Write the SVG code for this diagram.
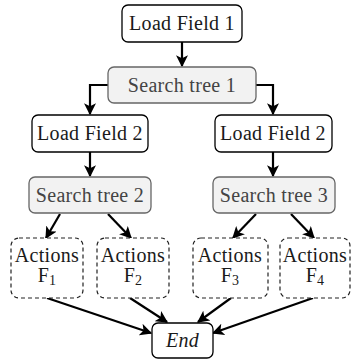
<svg xmlns="http://www.w3.org/2000/svg" width="352" height="362" viewBox="0 0 352 362">
<style>
text{font-family:"Liberation Serif","Times New Roman",serif;font-size:20px;letter-spacing:0.3px;fill:#1a1a1a;text-anchor:middle}
.box{fill:#fff;stroke:#000;stroke-width:1.3}
.st{fill:#f2f2f2;stroke:#666;stroke-width:1.3}
.act{fill:#fff;stroke:#222;stroke-width:1.2;stroke-dasharray:4 3}
.stt{fill:#444}
.sub{font-size:14px}
.c{fill:none;stroke:#000;stroke-width:2.2;marker-end:url(#ah)}
</style>
<defs>
<marker id="ah" viewBox="0 0 10 10" refX="9" refY="5" markerWidth="5.5" markerHeight="5.5" orient="auto" markerUnits="strokeWidth">
<path d="M0,0 L10,5 L0,10 L2.5,5 z" fill="#000"/>
</marker>
</defs>
<g id="connectors">
<path class="c" d="M182,42 V66"/>
<path class="c" d="M108,85 H90 V114"/>
<path class="c" d="M256,85 H273 V114"/>
<path class="c" d="M90,152 V176"/>
<path class="c" d="M273,152 V176"/>
<path class="c" d="M60,214 L46,238"/>
<path class="c" d="M108,214 L131,238"/>
<path class="c" d="M256,214 L233,238"/>
<path class="c" d="M291,214 L314,238"/>
<path class="c" d="M47,298 L151,333"/>
<path class="c" d="M130,298 L167,322"/>
<path class="c" d="M231,298 L198,322"/>
<path class="c" d="M313,298 L213,333"/>
</g>
<g id="lf1"><rect class="box" x="122" y="5" width="120" height="37" rx="6"/><text x="182" y="30">Load Field 1</text></g>
<g id="st1"><rect class="st" x="108" y="67" width="148" height="36" rx="6"/><text class="stt" x="182" y="92">Search tree 1</text></g>
<g id="lf2a"><rect class="box" x="32" y="115" width="116" height="37" rx="6"/><text x="90" y="140">Load Field 2</text></g>
<g id="lf2b"><rect class="box" x="215" y="115" width="117" height="37" rx="6"/><text x="273" y="140">Load Field 2</text></g>
<g id="st2"><rect class="st" x="29" y="177" width="122" height="36" rx="6"/><text class="stt" x="90" y="202">Search tree 2</text></g>
<g id="st3"><rect class="st" x="213" y="177" width="122" height="36" rx="6"/><text class="stt" x="274" y="202">Search tree 3</text></g>
<g id="a1"><rect class="act" x="11" y="238" width="72" height="60" rx="8"/><text x="47" y="262">Actions</text><text x="47" y="282">F<tspan class="sub" dy="3">1</tspan></text></g>
<g id="a2"><rect class="act" x="97" y="238" width="72" height="60" rx="8"/><text x="133" y="262">Actions</text><text x="133" y="282">F<tspan class="sub" dy="3">2</tspan></text></g>
<g id="a3"><rect class="act" x="193" y="238" width="75" height="60" rx="8"/><text x="230" y="262">Actions</text><text x="230" y="282">F<tspan class="sub" dy="3">3</tspan></text></g>
<g id="a4"><rect class="act" x="280" y="238" width="70" height="60" rx="8"/><text x="315" y="262">Actions</text><text x="315" y="282">F<tspan class="sub" dy="3">4</tspan></text></g>
<g id="end"><rect class="box" x="152" y="323" width="61" height="35" rx="6"/><text x="182.5" y="347" font-style="italic">End</text></g>
</svg>
